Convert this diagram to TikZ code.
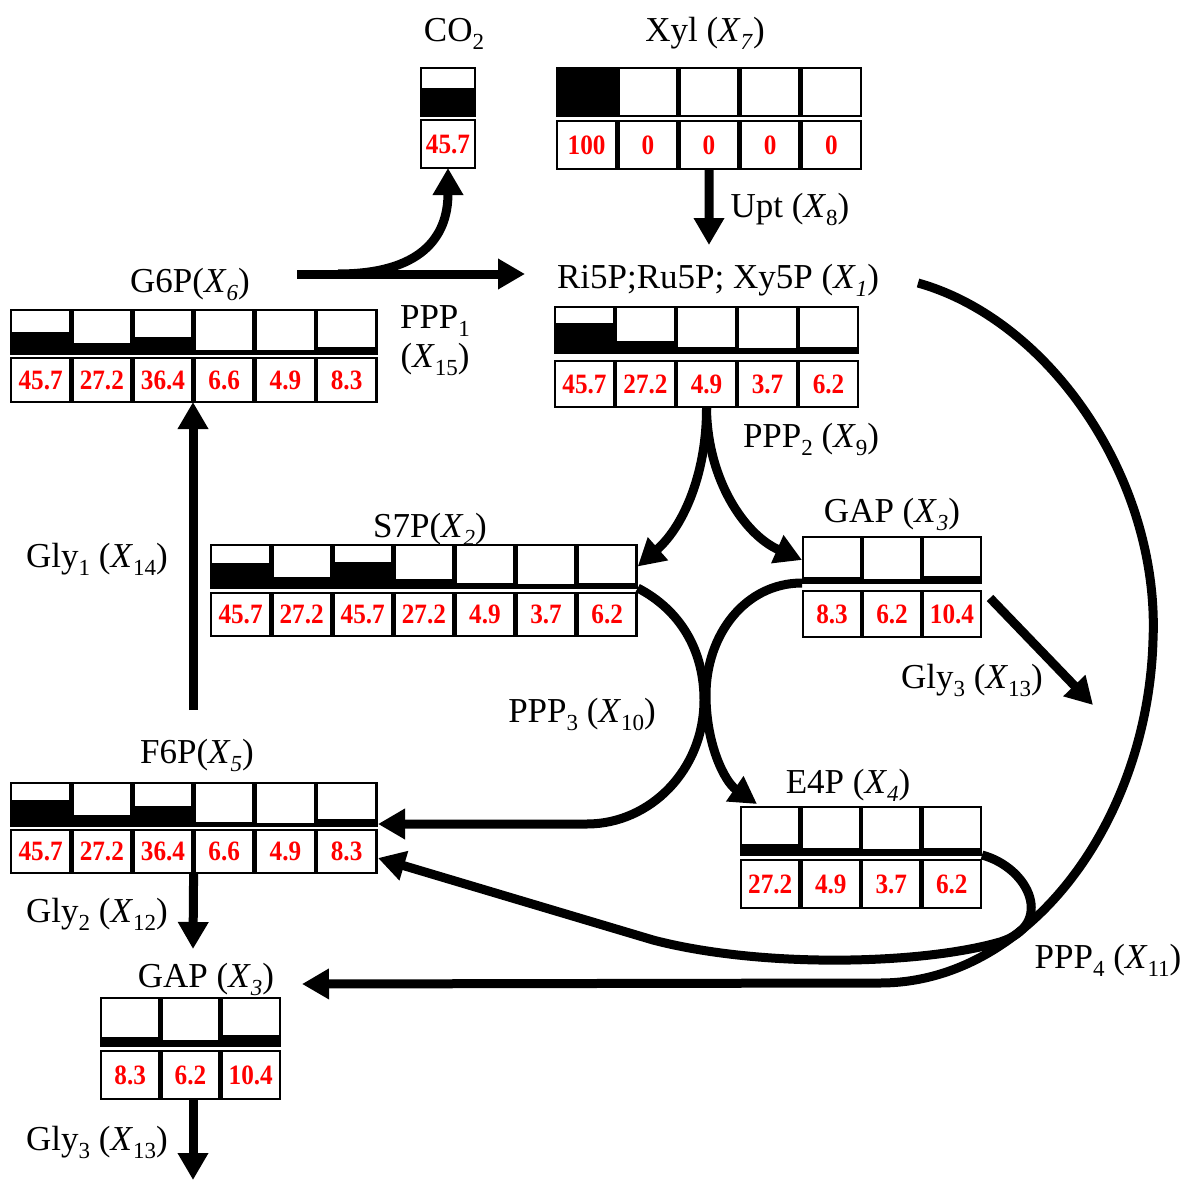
\documentclass[tikz,border=0pt]{standalone}
\usepackage{fontspec}
\setmainfont{Liberation Serif}
\usetikzlibrary{arrows.meta}
\pgfdeclarelayer{fluxes}
\pgfsetlayers{fluxes,main}

% lowered small index used in the labels
\newcommand\lo[1]{\raisebox{-8pt}{\fontsize{23}{25}\selectfont #1}}
\newcommand\Xit[1]{(\textit{X}\lo{\textit{#1}})}
\newcommand\Xup[1]{(\textit{X}\lo{#1})}

% one metabolite: a row of labelling cells over a row of values
% #1 name, #2 left x, #3 top y, #4 cell width, #5 row height, #6 row gap, #7 cells, #8 value/fill list
\newcommand\metab[8]{%
  \pgfmathsetmacro\mw{#7*#4}
  \pgfmathsetmacro\mh{2*#5+#6}
  \node[inner sep=0pt, outer sep=0pt, anchor=north west,
        minimum width=\mw pt, minimum height=\mh pt] (#1) at (#2,#3) {};
  \path (#2,{#3+#5/2}) coordinate (#1-tw) ({#2+\mw},{#3+#5/2}) coordinate (#1-te)
        (#2,{#3+#5}) coordinate (#1-mw) ({#2+\mw},{#3+#5}) coordinate (#1-me);
  \foreach \val/\frc [count=\i] in {#8}{
    \pgfmathsetmacro\xa{#2+(\i-1)*#4+1}
    \pgfmathsetmacro\xb{#2+\i*#4-1}
    \pgfmathsetmacro\ya{#3+#5}
    \pgfmathsetmacro\yf{#3+#5-\frc*#5}
    \pgfmathsetmacro\yb{#3+#5+#6}
    \pgfmathsetmacro\yc{#3+2*#5+#6}
    \fill[white] (\xa,#3) rectangle (\xb,\ya);
    \fill[black] (\xa,\yf) rectangle (\xb,\ya);
    \draw[cellline] (\xa,#3) rectangle (\xb,\ya);
    \draw[cellline,fill=white] (\xa,\yb) rectangle (\xb,\yc);
    \node[num] at ({(\xa+\xb)/2},{(\yb+\yc)/2}) {\scalebox{0.9}[1]{\val}};
  }%
}

\begin{document}
\begin{tikzpicture}[x=1pt,y=-1pt,
  flux/.style={line width=9pt, -{Triangle[length=27pt,width=29pt]}},
  lbl/.style={font=\fontsize{35}{37}\selectfont, inner sep=0pt, anchor=base},
  num/.style={font=\fontsize{28}{29}\selectfont\bfseries, text=red, inner sep=0pt},
  cellline/.style={draw=black, line width=2.8pt},
]
\useasboundingbox (0,0) rectangle (1186,1180);

% ---------- labels ----------
\node[lbl] (co2lbl)   at (454,42)   {CO\lo{2}};
\node[lbl] (xyllbl)   at (705,42)   {Xyl \Xit{7}};
\node[lbl] (uptlbl)   at (790,217)  {Upt \Xup{8}};
\node[lbl] (ri5plbl)  at (718,288)  {Ri5P;Ru5P; Xy5P \Xit{1}};
\node[lbl] (g6plbl)   at (190,292)  {G6P\Xit{6}};
\node[lbl] (ppp1lbl)  at (435,328)  {PPP\lo{1}};
\node[lbl] (x15lbl)   at (435,367)  {\Xup{15}};
\node[lbl] (ppp2lbl)  at (811,447)  {PPP\lo{2} \Xup{9}};
\node[lbl] (s7plbl)   at (430,537)  {S7P\Xit{2}};
\node[lbl] (gaprlbl)  at (892,522)  {GAP \Xit{3}};
\node[lbl] (gly1lbl)  at (97,567)   {Gly\lo{1} \Xup{14}};
\node[lbl] (ppp3lbl)  at (582,722)  {PPP\lo{3} \Xup{10}};
\node[lbl] (gly3rlbl) at (972,688)  {Gly\lo{3} \Xup{13}};
\node[lbl] (f6plbl)   at (197,763)  {F6P\Xit{5}};
\node[lbl] (e4plbl)   at (848,793)  {E4P \Xit{4}};
\node[lbl] (gly2lbl)  at (97,922)   {Gly\lo{2} \Xup{12}};
\node[lbl] (ppp4lbl)  at (1108,968) {PPP\lo{4} \Xup{11}};
\node[lbl] (gapblbl)  at (206,987)  {GAP \Xit{3}};
\node[lbl] (gly3blbl) at (97,1150)  {Gly\lo{3} \Xup{13}};

% ---------- metabolite pools ----------
\metab{co2}{420}{68}{56}{48}{4}{1}{45.7/0.58}
\metab{xyl}{556}{68}{61.2}{48}{5}{5}{100/1, 0/0, 0/0, 0/0, 0/0}
\metab{ri5p}{554}{307}{61}{46}{8}{5}{45.7/0.66, 27.2/0.27, 4.9/0.13, 3.7/0.1, 6.2/0.13}
\metab{g6p}{10}{310}{61.2}{44}{4}{6}{45.7/0.5, 27.2/0.25, 36.4/0.38, 6.6/0.1, 4.9/0.08, 8.3/0.15}
\metab{s7p}{210}{545}{61.1}{43}{5}{7}{45.7/0.58, 27.2/0.26, 45.7/0.6, 27.2/0.2, 4.9/0.12, 3.7/0.1, 6.2/0.12}
\metab{gapr}{802}{537}{60}{46}{8}{3}{8.3/0.12, 6.2/0.09, 10.4/0.16}
\metab{e4p}{740}{807}{60.5}{48}{5}{4}{27.2/0.22, 4.9/0.14, 3.7/0.12, 6.2/0.14}
\metab{f6p}{10}{783}{61.2}{43}{4}{6}{45.7/0.6, 27.2/0.25, 36.4/0.46, 6.6/0.1, 4.9/0.08, 8.3/0.16}
\metab{gapb}{100}{998}{60.3}{48}{5}{3}{8.3/0.18, 6.2/0.13, 10.4/0.22}

% ---------- connector ends ----------
\coordinate (ri5pin)   at (709,245);
\coordinate (ppp1s)    at (297,274);
\coordinate (ppp1e)    at (525,274);
\coordinate (ppp1fork) at (338,274);
\coordinate (gly1s)    at (193,710);
\coordinate (e4pin)    at (757,804);
\coordinate (gly3rs)   at (990,598);
\coordinate (gly3re)   at (1093,705);
\coordinate (ppp4s)    at (918,283);
\coordinate (gapbin)   at (302,984);
\coordinate (f6pin)    at (378,858);
\coordinate (f6ptop)   at (378,824);
\coordinate (gly2e)    at (193,949);
\coordinate (gly3be)   at (193,1180);

% ---------- fluxes (behind the pools) ----------
\begin{pgfonlayer}{fluxes}
\draw[flux] (xyl.south) -- (ri5pin);
\draw[flux] (ppp1s) -- (ppp1e);
\draw[flux] (ppp1fork) .. controls (420,274) and (448,238) .. (co2.south);
\draw[flux] (gly1s) -- (gly1s |- g6p.south);
\draw[flux] (ri5p.south) .. controls (707,470) and (685,525) .. (s7p-te);
\draw[flux] (ri5p.south) .. controls (707,480) and (745,535) .. (gapr-tw);
\draw[flux] (s7p-me) .. controls (680,610) and (704,650) .. (704,700)
            .. controls (704,770) and (650,824) .. (587,824) -- (f6ptop);
\draw[flux] (gapr-mw) .. controls (745,583) and (706,635) .. (706,695)
            .. controls (706,745) and (725,782) .. (e4pin);
\draw[flux] (gly3rs) -- (gly3re);
\draw[flux] (ppp4s) .. controls (1050,320) and (1160,480) .. (1153,640)
            .. controls (1148,820) and (1030,983) .. (880,983) -- (gapbin);
\draw[flux] (e4p-me) .. controls (1030,868) and (1055,925) .. (1000,942)
            .. controls (920,965) and (760,968) .. (653,940) -- (f6pin);
\draw[flux] (f6p.south) -- (gly2e);
\draw[flux] (gly3be |- gapb.south) -- (gly3be);
\end{pgfonlayer}
\end{tikzpicture}
\end{document}
